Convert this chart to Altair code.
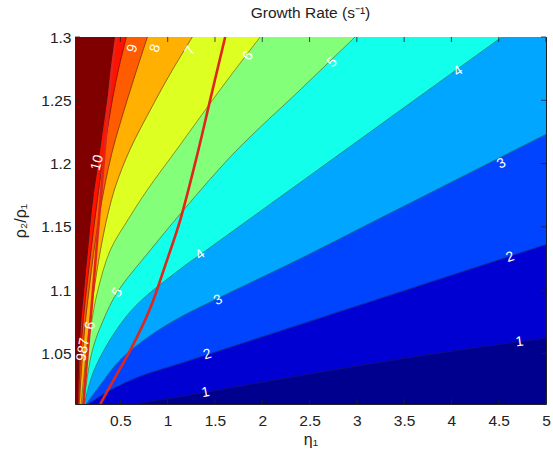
import altair as alt
import pandas as pd

# Plot extent
X_MIN, X_MAX = 0.02, 5.0
Y_MIN, Y_MAX = 1.01, 1.3

X_TICKS = [0.5, 1, 1.5, 2, 2.5, 3, 3.5, 4, 4.5, 5]
Y_TICKS = [1.05, 1.1, 1.15, 1.2, 1.25, 1.3]

# Filled band colours: below level 1, then the band above each level 1..10
BAND_COLORS = ["#00008F", "#0000D2", "#0044FF", "#00A6FF", "#12FFEC",
               "#84FF7A", "#DDFF22", "#FFB000", "#FF5C00", "#FF1200", "#800000"]

LEVELS = [1, 2, 3, 4, 5, 6, 7, 8, 9, 10]

# Contour lines of the growth rate, traced from the bottom edge upwards (eta_1, rho2/rho1)
eta_1 = [0.66, 0.85, 1.133, 1.40, 2.19, 3.14, 4.09, 5.0]
ratio_1 = [1.010, 1.0125, 1.0158, 1.0193, 1.0297, 1.0417, 1.0527, 1.062]

eta_2 = [0.162, 0.394, 0.711, 1.133, 1.418, 1.978, 2.717, 3.245, 4.090, 5.0]
ratio_2 = [1.010, 1.021, 1.032, 1.0421, 1.049, 1.0626, 1.0806, 1.0934, 1.114, 1.136]

eta_3 = [0.140, 0.288, 0.499, 0.816, 1.133, 1.534, 2.400, 3.245, 4.534, 5.0]
ratio_3 = [1.010, 1.025, 1.045, 1.064, 1.0785, 1.0935, 1.1247, 1.1567, 1.2054, 1.223]

eta_4 = [0.119, 0.235, 0.605, 1.133, 1.344, 1.978, 2.854, 3.139, 4.069, 4.534]
ratio_4 = [1.010, 1.039, 1.083, 1.1166, 1.128, 1.1622, 1.2094, 1.2248, 1.2749, 1.300]

eta_5 = [0.109, 0.204, 0.320, 0.468, 0.816, 1.165, 1.714, 2.400, 2.738, 2.981]
ratio_5 = [1.010, 1.0525, 1.0763, 1.0984, 1.1315, 1.163, 1.2093, 1.2582, 1.2825, 1.300]

eta_6 = [0.100, 0.150, 0.190, 0.257, 0.394, 0.584, 0.785, 1.133, 1.555, 1.978]
ratio_6 = [1.010, 1.050, 1.072, 1.0984, 1.1317, 1.156, 1.1792, 1.2149, 1.2584, 1.300]

eta_7 = [0.085, 0.12, 0.16, 0.21, 0.29, 0.37, 0.45, 0.60, 0.84, 1.03, 1.26]
ratio_7 = [1.010, 1.036, 1.0644, 1.0944, 1.132, 1.1608, 1.1824, 1.2109, 1.2457, 1.2714, 1.300]

eta_8 = [0.065, 0.10, 0.13, 0.17, 0.214, 0.27, 0.33, 0.415, 0.542, 0.658, 0.785]
ratio_8 = [1.010, 1.050, 1.0755, 1.1015, 1.1279, 1.1559, 1.1811, 1.210, 1.243, 1.2708, 1.300]

eta_9 = [0.055, 0.08, 0.105, 0.14, 0.19, 0.24, 0.30, 0.36, 0.42, 0.49, 0.563]
ratio_9 = [1.010, 1.050, 1.075, 1.0999, 1.132, 1.162, 1.1956, 1.2256, 1.2526, 1.2778, 1.300]

eta_10 = [0.045, 0.062, 0.08, 0.105, 0.15, 0.20, 0.257, 0.32, 0.385, 0.447]
ratio_10 = [1.010, 1.050, 1.075, 1.095, 1.130, 1.168, 1.1983, 1.2318, 1.2664, 1.300]

CURVES = {
    1: (eta_1, ratio_1), 2: (eta_2, ratio_2), 3: (eta_3, ratio_3),
    4: (eta_4, ratio_4), 5: (eta_5, ratio_5), 6: (eta_6, ratio_6),
    7: (eta_7, ratio_7), 8: (eta_8, ratio_8), 9: (eta_9, ratio_9),
    10: (eta_10, ratio_10),
}

# Two red boundary curves drawn over the contours
red_left_eta = [0.109, 0.151, 0.193, 0.246, 0.299, 0.352, 0.404, 0.457]
red_left_ratio = [1.010, 1.0485, 1.0842, 1.1317, 1.1792, 1.2268, 1.2703, 1.300]
red_right_eta = [0.288, 0.426, 0.605, 0.816, 0.975, 1.133, 1.312, 1.450, 1.608]
red_right_ratio = [1.010, 1.0287, 1.0525, 1.0858, 1.1198, 1.1555, 1.2069, 1.2505, 1.300]

# Inline contour labels
label_text = ["1", "2", "3", "4", "5", "6", "7", "8", "9",
              "1", "2", "3", "4", "5", "6", "9", "8", "7", "10"]
label_eta = [4.72, 4.62, 4.53, 4.07, 2.74, 1.85, 1.24, 0.87, 0.63,
             1.40, 1.42, 1.534, 1.344, 0.468, 0.183, 0.095, 0.108, 0.121, 0.257]
label_ratio = [1.059, 1.126, 1.200, 1.273, 1.280, 1.285, 1.289, 1.291, 1.291,
               1.019, 1.049, 1.092, 1.128, 1.098, 1.072, 1.047, 1.053, 1.059, 1.2006]
label_angle = [352, 341, 331, 325, 318, 307, 300, 288, 285,
               349, 343, 333, 323, 305, 282, 280, 280, 280, 285]

FONT = "Liberation Sans"
W, H = 471, 367
CURVE = "catmull-rom"

xscale = alt.Scale(domain=[X_MIN, X_MAX], nice=False, zero=False)
yscale = alt.Scale(domain=[Y_MIN, Y_MAX], nice=False, zero=False)

X_ENC = alt.X("x:Q", scale=xscale, title="η₁",
              axis=alt.Axis(values=X_TICKS, format="~g", ticks=False, domain=False,
                            grid=False, labelPadding=9, titlePadding=3,
                            labelFlush=False))
Y_ENC = alt.Y("y:Q", scale=yscale, title="ρ₂/ρ₁",
              axis=alt.Axis(values=Y_TICKS, format="~g", ticks=False, domain=False,
                            grid=False, labelPadding=4, titlePadding=12,
                            labelFlush=False))

layers = []

# Filled bands: each level paints the region to the left of (above) its contour line
for lv in LEVELS:
    xs, ys = CURVES[lv]
    col = BAND_COLORS[lv]
    df = pd.DataFrame({"x": xs, "y": ys, "x0": [X_MIN] * len(xs)})
    layers.append(
        alt.Chart(df).mark_area(orient="horizontal", fill=col, stroke=col,
                                strokeWidth=0.8, opacity=1, clip=True,
                                interpolate=CURVE)
        .encode(y=Y_ENC, x=X_ENC, x2="x0:Q")
    )
    # Contours leaving through the right edge: the strip above the exit point
    if xs[-1] >= X_MAX and ys[-1] < Y_MAX:
        strip = pd.DataFrame({"x": [X_MIN], "x1": [X_MAX], "y": [ys[-1]], "y1": [Y_MAX]})
        layers.append(
            alt.Chart(strip).mark_rect(fill=col, stroke=col, strokeWidth=0.8, clip=True)
            .encode(x=X_ENC, x2="x1:Q", y=Y_ENC, y2="y1:Q")
        )

# Contour lines
for lv in LEVELS:
    xs, ys = CURVES[lv]
    df = pd.DataFrame({"x": xs, "y": ys, "i": range(len(xs))})
    layers.append(
        alt.Chart(df).mark_line(color="#202020", strokeWidth=0.8, opacity=0.6,
                                clip=True, interpolate=CURVE)
        .encode(x=X_ENC, y=Y_ENC, order="i:Q")
    )

# Red curves
for xs, ys in [(red_left_eta, red_left_ratio), (red_right_eta, red_right_ratio)]:
    df = pd.DataFrame({"x": xs, "y": ys, "i": range(len(xs))})
    layers.append(
        alt.Chart(df).mark_line(color="#E0261C", strokeWidth=2.6, clip=True,
                                interpolate=CURVE)
        .encode(x=X_ENC, y=Y_ENC, order="i:Q")
    )

# Contour labels
labels = pd.DataFrame({"x": label_eta, "y": label_ratio, "t": label_text,
                       "a": label_angle})
layers.append(
    alt.Chart(labels).mark_text(color="white", font=FONT, fontSize=14)
    .encode(x=X_ENC, y=Y_ENC, text="t:N", angle=alt.Angle("a:Q", scale=None))
)

# Inward tick marks on all four sides
xt = pd.DataFrame({"x": X_TICKS})
yt = pd.DataFrame({"y": Y_TICKS})
tick_style = dict(color="#222222", strokeWidth=0.8)
layers += [
    alt.Chart(xt).mark_rule(**tick_style).encode(x=X_ENC, y=alt.value(0), y2=alt.value(5)),
    alt.Chart(xt).mark_rule(**tick_style).encode(x=X_ENC, y=alt.value(H - 5), y2=alt.value(H)),
    alt.Chart(yt).mark_rule(**tick_style).encode(y=Y_ENC, x=alt.value(0), x2=alt.value(5)),
    alt.Chart(yt).mark_rule(**tick_style).encode(y=Y_ENC, x=alt.value(W - 5), x2=alt.value(W)),
]

chart = (
    alt.layer(*layers)
    .properties(
        width=W, height=H,
        title=alt.Title("Growth Rate (s⁻¹)", font=FONT, fontSize=15.5,
                        fontWeight="normal", color="#222222", offset=9),
        autosize=alt.AutoSizeParams(type="none"),
        padding={"left": 75, "top": 37, "right": 7, "bottom": 51},
        background="white",
    )
    .configure_view(fill=BAND_COLORS[0], stroke="#222222", strokeWidth=1)
    .configure_axis(labelFont=FONT, labelFontSize=15.5, labelColor="#222222",
                    titleFont=FONT, titleFontSize=16, titleFontWeight="normal",
                    titleColor="#222222")
)

chart.save("out.html", embed_options={"renderer": "svg", "actions": False})
